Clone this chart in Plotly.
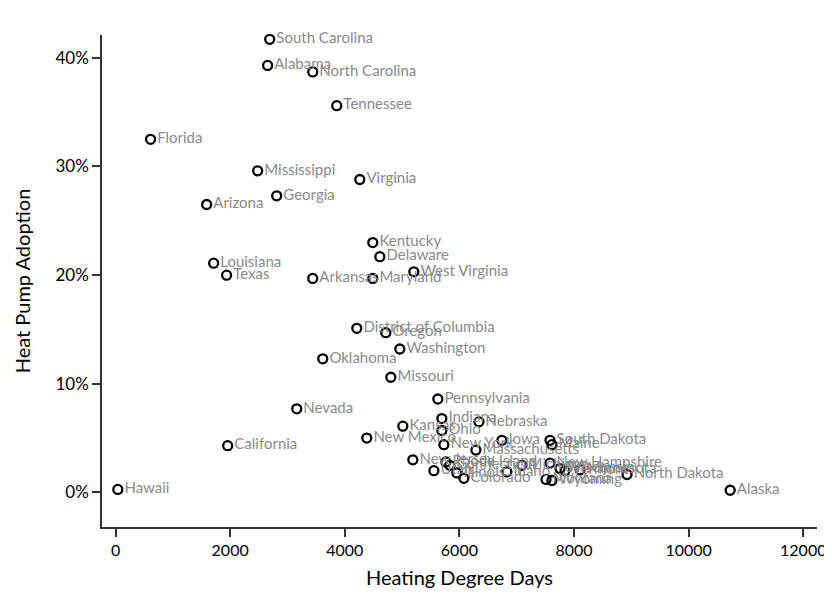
import plotly.graph_objects as go

states = ["South Carolina", "Alabama", "North Carolina", "Tennessee", "Florida",
          "Mississippi", "Virginia", "Georgia", "Arizona", "Kentucky", "Delaware",
          "Louisiana", "West Virginia", "Texas", "Arkansas", "Maryland",
          "District of Columbia", "Oregon", "Washington", "Oklahoma", "Missouri",
          "Pennsylvania", "Nevada", "Indiana", "Nebraska", "Kansas", "Ohio",
          "New Mexico", "California", "Iowa", "South Dakota", "Maine", "New York",
          "Massachusetts", "New Jersey", "Rhode Island", "Connecticut", "Utah",
          "Illinois", "Colorado", "Idaho", "Michigan", "New Hampshire", "Montana",
          "Wyoming", "Wisconsin", "Vermont", "Minnesota", "North Dakota",
          "Alaska", "Hawaii"]

hdd = [2690, 2654, 3441, 3860, 611,
       2480, 4262, 2812, 1590, 4489, 4612,
       1712, 5205, 1938, 3441, 4489,
       4210, 4716, 4960, 3616, 4804,
       5624, 3162, 5694, 6341, 5013, 5694,
       4384, 1957, 6742, 7581, 7615, 5729,
       6288, 5188, 5764, 5833, 5555,
       5956, 6078, 6829, 7092, 7581, 7511,
       7615, 7755, 7843, 8105, 8925,
       10725, 40]

adoption = [0.417, 0.393, 0.387, 0.356, 0.325,
            0.296, 0.288, 0.273, 0.265, 0.230, 0.217,
            0.211, 0.203, 0.200, 0.197, 0.197,
            0.151, 0.147, 0.132, 0.123, 0.106,
            0.086, 0.077, 0.068, 0.065, 0.061, 0.057,
            0.050, 0.043, 0.048, 0.048, 0.044, 0.044,
            0.039, 0.030, 0.028, 0.025, 0.020,
            0.018, 0.013, 0.019, 0.025, 0.027, 0.012,
            0.011, 0.022, 0.020, 0.021, 0.0165,
            0.002, 0.0028]

x_ticks = [0, 2000, 4000, 6000, 8000, 10000, 12000]
y_ticks = [0, 0.1, 0.2, 0.3, 0.4]
y_tick_labels = ["0%", "10%", "20%", "30%", "40%"]

FONT = "Lato, 'Open Sans', sans-serif"

fig = go.Figure()
fig.add_trace(go.Scatter(
    x=hdd, y=adoption, text=states,
    mode="markers+text",
    textposition="middle right",
    textfont=dict(family=FONT, size=15, color="#8a8a8a"),
    marker=dict(symbol="circle-open", size=9, color="black",
                line=dict(width=2.3, color="black")),
    cliponaxis=False,
    hoverinfo="text",
))

fig.update_layout(
    width=840, height=581,
    margin=dict(l=94, r=31, t=27, b=62),
    paper_bgcolor="white", plot_bgcolor="white",
    showlegend=False,
    font=dict(family=FONT, color="black"),
)
fig.update_xaxes(
    range=[-236, 12240], automargin=False,
    tickvals=x_ticks, ticktext=[str(v) for v in x_ticks],
    ticks="outside", ticklen=8, tickwidth=1.5, tickcolor="#333",
    showline=True, linecolor="#333", linewidth=1.5,
    showgrid=False, zeroline=False,
    tickfont=dict(size=16, family=FONT),
    title=dict(text="Heating Degree Days", font=dict(size=20, family=FONT), standoff=14),
)
fig.update_yaxes(
    range=[-0.0318, 0.421], automargin=False,
    tickvals=y_ticks, ticktext=y_tick_labels,
    ticks="outside", ticklen=8, tickwidth=1.5, tickcolor="#333",
    showline=True, linecolor="#333", linewidth=1.5,
    showgrid=False, zeroline=False,
    tickfont=dict(size=17, family=FONT),
    title=dict(text="Heat Pump Adoption", font=dict(size=20, family=FONT), standoff=19),
)

fig.write_html("out.html")
